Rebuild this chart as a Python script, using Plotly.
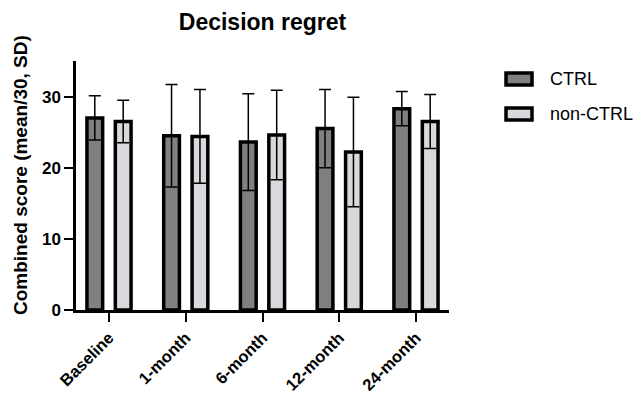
import plotly.graph_objects as go

categories = ["Baseline", "1-month", "6-month", "12-month", "24-month"]
series_names = ["CTRL", "non-CTRL"]
ctrl_mean = [27.0, 24.5, 23.6, 25.5, 28.3]
ctrl_sd = [3.1, 7.2, 6.8, 5.5, 2.4]
nonctrl_mean = [26.5, 24.4, 24.6, 22.2, 26.5]
nonctrl_sd = [3.0, 6.6, 6.3, 7.7, 3.8]
y_ticks = [0, 10, 20, 30]

colors = ["#808080", "#d9d9dd"]
FONT = "Liberation Sans, Arial, sans-serif"
BAR_W = 0.205
CENTERS = [-0.185, 0.185]

# page body has an 8px margin; figure is sized/placed to compensate
W, H = 634, 387
PL, PT, PR, PB = 68, 53, 193, 85
PW, PH = W - PL - PR, H - PT - PB

fig = go.Figure()
for i, (name, mean, sd) in enumerate([(series_names[0], ctrl_mean, ctrl_sd),
                                      (series_names[1], nonctrl_mean, nonctrl_sd)]):
    fig.add_trace(go.Bar(
        x=categories, y=mean, name=name,
        width=BAR_W, offset=CENTERS[i] - BAR_W / 2,
        marker=dict(color=colors[i], line=dict(color="black", width=3.5)),
        error_y=dict(type="data", array=sd, visible=True, color="black",
                     thickness=1.5, width=6),
        showlegend=False,
    ))

fig.update_layout(
    width=W, height=H,
    margin=dict(l=PL, r=PR, t=PT, b=PB),
    paper_bgcolor="white", plot_bgcolor="white",
    barmode="overlay",
    font=dict(family=FONT, color="black"),
    title=dict(text="<b>Decision regret</b>", x=(PL + PW / 2) / W, xanchor="center",
               yref="container", y=1 - 14 / H, yanchor="middle",
               font=dict(size=23, family=FONT, color="black")),
)
fig.update_xaxes(
    range=[-0.43, 4.43], showline=True, linewidth=2.5, linecolor="black",
    ticks="outside", ticklen=9, tickwidth=2, tickcolor="black",
    tickangle=-45, tickfont=dict(size=16.5, family=FONT, color="black"),
    showgrid=False, zeroline=False, automargin=False,
    tickvals=categories, ticktext=["<b>%s</b>" % c for c in categories],
)
fig.update_yaxes(
    range=[0, 35], showline=True, linewidth=2.5, linecolor="black",
    ticks="outside", ticklen=9, tickwidth=2, tickcolor="black",
    tickvals=y_ticks, ticktext=["<b>%d</b>" % v for v in y_ticks],
    tickfont=dict(size=17, family=FONT, color="black"),
    showgrid=False, zeroline=False, automargin=False,
)

# Y axis title placed as annotation (reference pixel coords -> paper)
def px(xr):
    return (xr - 8 - PL) / PW

def py(yr):
    return (PT + PH - (yr - 8)) / PH

fig.add_annotation(xref="paper", yref="paper", x=px(20), y=py(175),
                   text="<b>Combined score (mean/30, SD)</b>", textangle=-90,
                   showarrow=False, xanchor="center", yanchor="middle",
                   font=dict(size=19, family=FONT, color="black"))

# Custom legend (rectangular swatches as in the reference)
leg_y = [79, 114]
for i, name in enumerate(series_names):
    yc = leg_y[i]
    fig.add_shape(type="rect", xref="paper", yref="paper",
                  x0=px(506), x1=px(532), y0=py(yc - 6), y1=py(yc + 6),
                  fillcolor=colors[i], line=dict(color="black", width=3.5))
    fig.add_annotation(xref="paper", yref="paper", x=px(548), y=py(yc),
                       text=name, showarrow=False,
                       xanchor="left", yanchor="middle",
                       font=dict(size=18, family=FONT, color="black"))

fig.write_html("out.html")
